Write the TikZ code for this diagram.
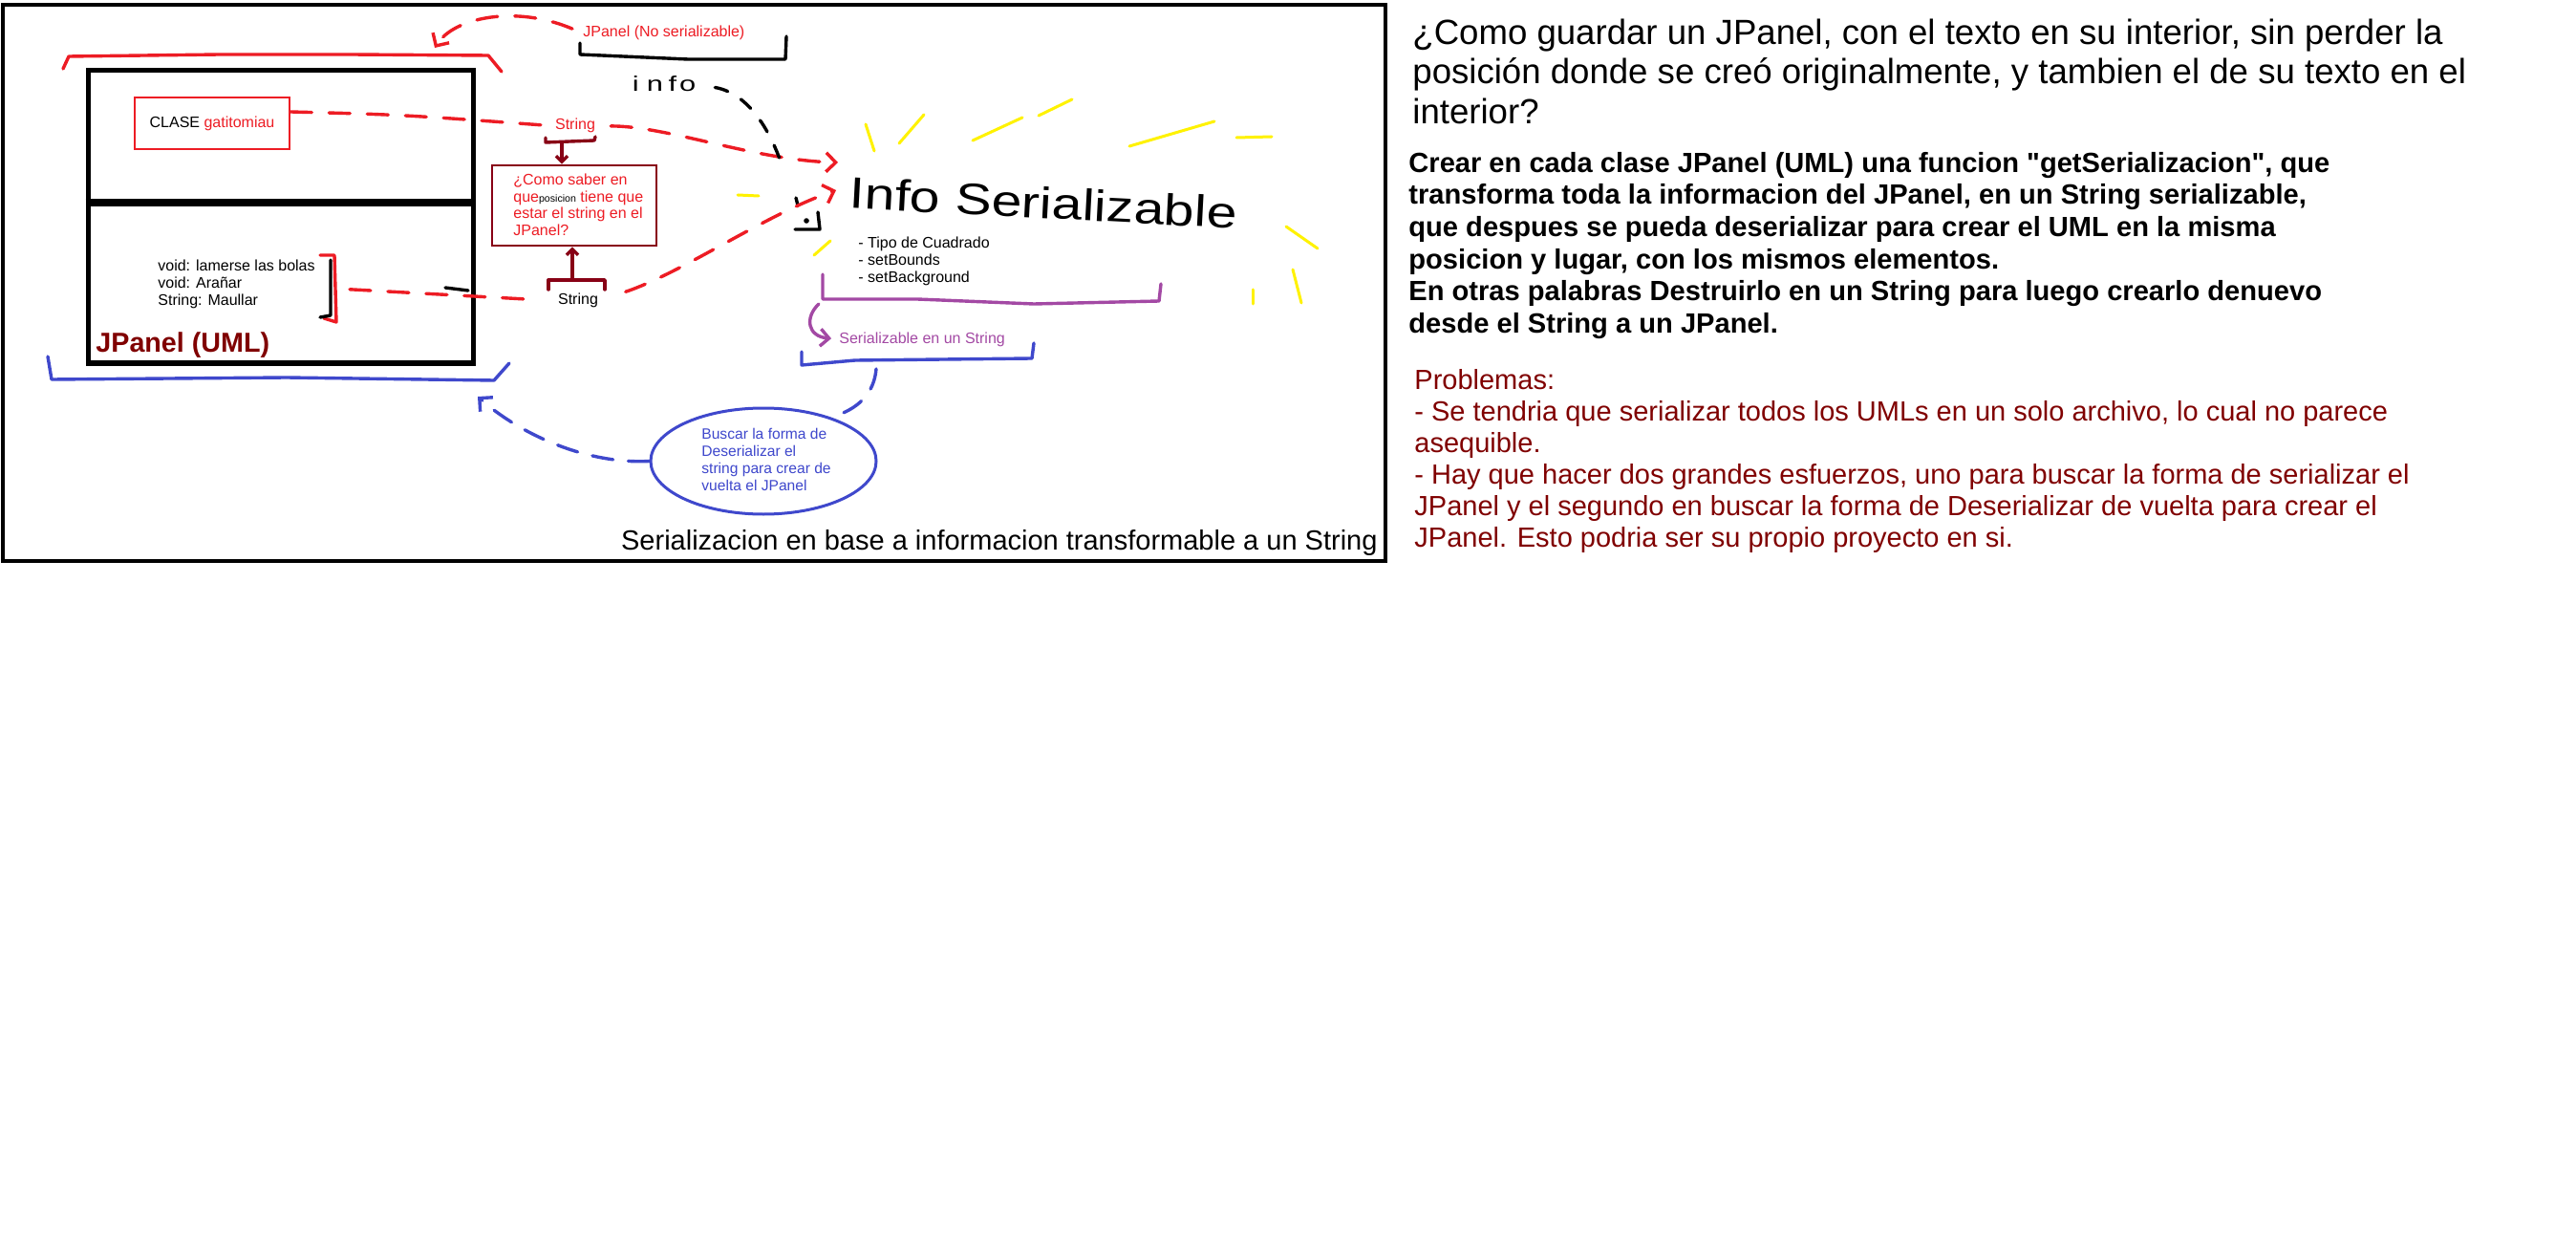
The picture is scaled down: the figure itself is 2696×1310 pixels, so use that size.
\documentclass[tikz,border=0pt]{standalone}
\usepackage{fontspec}
\setmainfont{Liberation Sans}
\usetikzlibrary{arrows.meta,calc,shapes.geometric}
\definecolor{pred}{HTML}{ED1C24}
\definecolor{pdark}{HTML}{880015}
\definecolor{pmaroon}{HTML}{800000}
\definecolor{pyel}{HTML}{FFF200}
\definecolor{ppur}{HTML}{A349A4}
\definecolor{pblue}{HTML}{3F48CC}
\begin{document}
\begin{tikzpicture}[x=0.5pt,y=-0.5pt,
  pen/.style={line width=1.7pt,line cap=round,line join=round},
  rdash/.style={pen,draw=pred,dash pattern=on 11pt off 9pt},
  bdash/.style={pen,draw=pblue,dash pattern=on 11pt off 8pt},
  kdash/.style={pen,draw=black,dash pattern=on 7pt off 8pt},
  ray/.style={line width=1.5pt,line cap=round,draw=pyel},
  lbl/.style={inner sep=0pt},
  smalltxt/.style={lbl,font=\fontsize{8}{9}\selectfont},
  barb/.style={-{Straight Barb[length=5pt,width=10pt]}},
  sbarb/.style={-{Straight Barb[length=3pt,width=6pt]}}
]
\fill[white] (0,0) rectangle (2696,1310);
\useasboundingbox (0,0) rectangle (2696,1310);

% frame
\draw[line width=1.7pt] (3,5) rectangle (1450,587);

% UML box
\node[draw,line width=2.5pt,minimum width=201.5pt,minimum height=153pt,inner sep=0pt] (uml) at (293.5,227) {};
\draw[line width=3.8pt] (uml.west |- 0,212) -- (uml.east |- 0,212);
\node[lbl,anchor=base west,font=\bfseries\fontsize{14.35}{16}\selectfont,text=pmaroon] (umlt) at (100,369) {JPanel (UML)};

% CLASE box
\node[draw=pred,line width=1.3pt,minimum width=81pt,minimum height=27pt,inner sep=0pt,font=\fontsize{8}{9}\selectfont] (clase) at (222,129) {CLASE \textcolor{pred}{gatitomiau}};

% methods
\node[smalltxt,anchor=north west,align=left] (meth) at (165,267) {\rule{0pt}{1em}void: lamerse las bolas\\void: Arañar\\String: Maullar};
\draw[pen,draw=pred] (335,267) -- (350,267) -- (352,337) -- (339,333);
\draw[pen] (346,272) -- (346,330) -- (335,332);
\coordinate (mbr) at (352,302);

% brackets
\draw[pen,draw=pred] (66,72) -- (72,59) -- (230,57) -- (367,57) -- (511,58) -- (525,75);
\draw[pen,draw=pblue] (50,373) -- (54,397) -- (300,395) -- (517,398) -- (533,380);
\draw[pen] (607,45) -- (607,57) -- (720,62) -- (822,62) -- (823,38);
\draw[pen,draw=ppur] (861,287) -- (861,313) -- (960,313) -- (1082,318) -- (1213,315) -- (1215,297);
\draw[pen,draw=pblue] (839,368) -- (839,382) -- (895,377) -- (1080,375) -- (1082,359);
\draw[pen,draw=pdark] (571,144) -- (571,149) -- (622,147) -- (623,143);
\draw[pen,draw=pdark] (574,303) -- (574,293) -- (633,293) -- (633,303);
\coordinate (brA) at (588,149);
\coordinate (brB) at (599,293);
\coordinate (pbr) at (857,318);
\coordinate (bbr) at (917,386);

% labels
\node[smalltxt,anchor=base west,text=pred] (nosr) at (610,39) {JPanel (No serializable)};
\node[smalltxt,anchor=base,text=pred] (strA) at (602,136) {String};
\node[smalltxt,anchor=base] (strB) at (605,319) {String};
\node[lbl,font=\fontsize{11}{11}\selectfont] (infoW) at (695,88) {\scalebox{1.4}[1]{i\hspace{3pt}n\hspace{2pt}f\hspace{1pt}o}};
\node[lbl,rotate=-3,font=\fontsize{23}{23}\selectfont] (infoS) at (1092,212) {\scalebox{1.24}[1]{Info Serializable}};
\node[smalltxt,anchor=north west,align=left] (bul) at (898,243) {\rule{0pt}{1em}- Tipo de Cuadrado\\- setBounds\\- setBackground};
\node[smalltxt,anchor=base west,text=ppur] (ser) at (878,359) {Serializable en un String};

% question box
\node[draw=pdark,line width=1.4pt,minimum width=86pt,minimum height=42pt,inner sep=0pt] (q) at (601,215) {};
\node[lbl,anchor=north west,align=left,text=pred,font=\fontsize{8}{8.9}\selectfont] (qt) at (537,177) {\rule{0pt}{1em}¿Como saber en\\que{\fontsize{5.3}{6}\selectfont\color{black}posicion} tiene que\\estar el string en el\\JPanel?};

% ellipse
\node[ellipse,draw=pblue,line width=1.5pt,minimum width=118pt,minimum height=55.5pt,inner sep=0pt] (ell) at (799,482.5) {};
\node[lbl,anchor=north west,align=left,text=pblue,font=\fontsize{7.8}{9.15}\selectfont] (elltxt) at (734,443) {\rule{0pt}{1em}Buscar la forma de\\Deserializar el\\string para crear de\\vuelta el JPanel};

% caption
\node[lbl,anchor=base east,font=\fontsize{14.5}{16.5}\selectfont] (cap) at (1442,575) {Serializacion en base a informacion transformable a un String};

% yellow rays
\draw[ray] (772,204) -- (794,205);
\draw[ray] (852,267) -- (869,252);
\draw[ray] (906,130) -- (915,158);
\draw[ray] (941,150) -- (967,120);
\draw[ray] (1018,147) -- (1070,123);
\draw[ray] (1087,121) -- (1122,104);
\draw[ray] (1182,153) -- (1271,127);
\draw[ray] (1294,144) -- (1331,143);
\draw[ray] (1346,237) -- (1379,260);
\draw[ray] (1353,282) -- (1362,317);
\draw[ray] (1311,303) -- (1311,318);

% connector end points
\coordinate (tipA) at (877,170);
\coordinate (tipB) at (875,199);
\coordinate (tipK) at (820,178);
\coordinate (tipR) at (455,50);
\coordinate (tipU) at (500,415);

% connectors
\draw[rdash,shorten >=7pt] ($(clase.east)+(0,-12)$) .. controls (420,120) .. (strA.west);
\draw[rdash,barb,shorten <=8pt] (strA.east) .. controls (700,132) and (790,168) .. (tipA);
\draw[kdash,shorten <=10pt] (infoW.east) .. controls (785,98) and (808,140) .. (tipK);
\draw[pen] (833,207) -- (835,215);
\fill (844,231) circle (1.4pt);
\draw[pen] (832,240) -- (858,240) -- (856,222);
\draw[rdash,barb,shorten <=15pt] (strB.east) .. controls (715,285) and (800,225) .. (tipB);
\draw[rdash,shorten <=7pt,shorten >=16pt] (mbr) -- (strB.west);
\draw[pen] (466,301) -- (490,304);
\draw[rdash,barb,shorten <=6pt] (nosr.west) .. controls (540,5) and (475,18) .. (tipR);
\draw[pen,draw=ppur,-{Straight Barb[length=4.5pt,width=9pt]},shorten >=4pt] (pbr) .. controls (842,332) and (845,352) .. (ser.west);
\draw[bdash] (bbr) .. controls (915,410) and (900,428) .. (ell.33);
\draw[bdash,barb] (ell.west) .. controls (615,486) and (545,455) .. (tipU);
\draw[pen,draw=pdark,sbarb] (brA) -- (brA |- q.north);
\draw[pen,draw=pdark,sbarb] (brB) -- (brB |- q.south);

% right side texts
\node[lbl,anchor=north west,align=left,font=\fontsize{18.3}{20.75}\selectfont] (quest) at (1478,9.4) {\rule{0pt}{1em}¿Como guardar un JPanel, con el texto en su interior, sin perder la\\posición donde se creó originalmente, y tambien el de su texto en el\\interior?};
\node[lbl,anchor=north west,align=left,font=\bfseries\fontsize{14.55}{16.8}\selectfont] (sol) at (1474,150.9) {\rule{0pt}{1em}Crear en cada clase JPanel (UML) una funcion \textquotedbl getSerializacion\textquotedbl, que\\transforma toda la informacion del JPanel, en un String serializable,\\que despues se pueda deserializar para crear el UML en la misma\\posicion y lugar, con los mismos elementos.\\En otras palabras Destruirlo en un String para luego crearlo denuevo\\desde el String a un JPanel.};
\node[lbl,anchor=north west,align=left,text=pmaroon,font=\fontsize{14.5}{16.5}\selectfont] (prob) at (1480,378) {\rule{0pt}{1em}Problemas:\\- Se tendria que serializar todos los UMLs en un solo archivo, lo cual no parece\\asequible.\\- Hay que hacer dos grandes esfuerzos, uno para buscar la forma de serializar el\\JPanel y el segundo en buscar la forma de Deserializar de vuelta para crear el\\JPanel. Esto podria ser su propio proyecto en si.};
\end{tikzpicture}
\end{document}
